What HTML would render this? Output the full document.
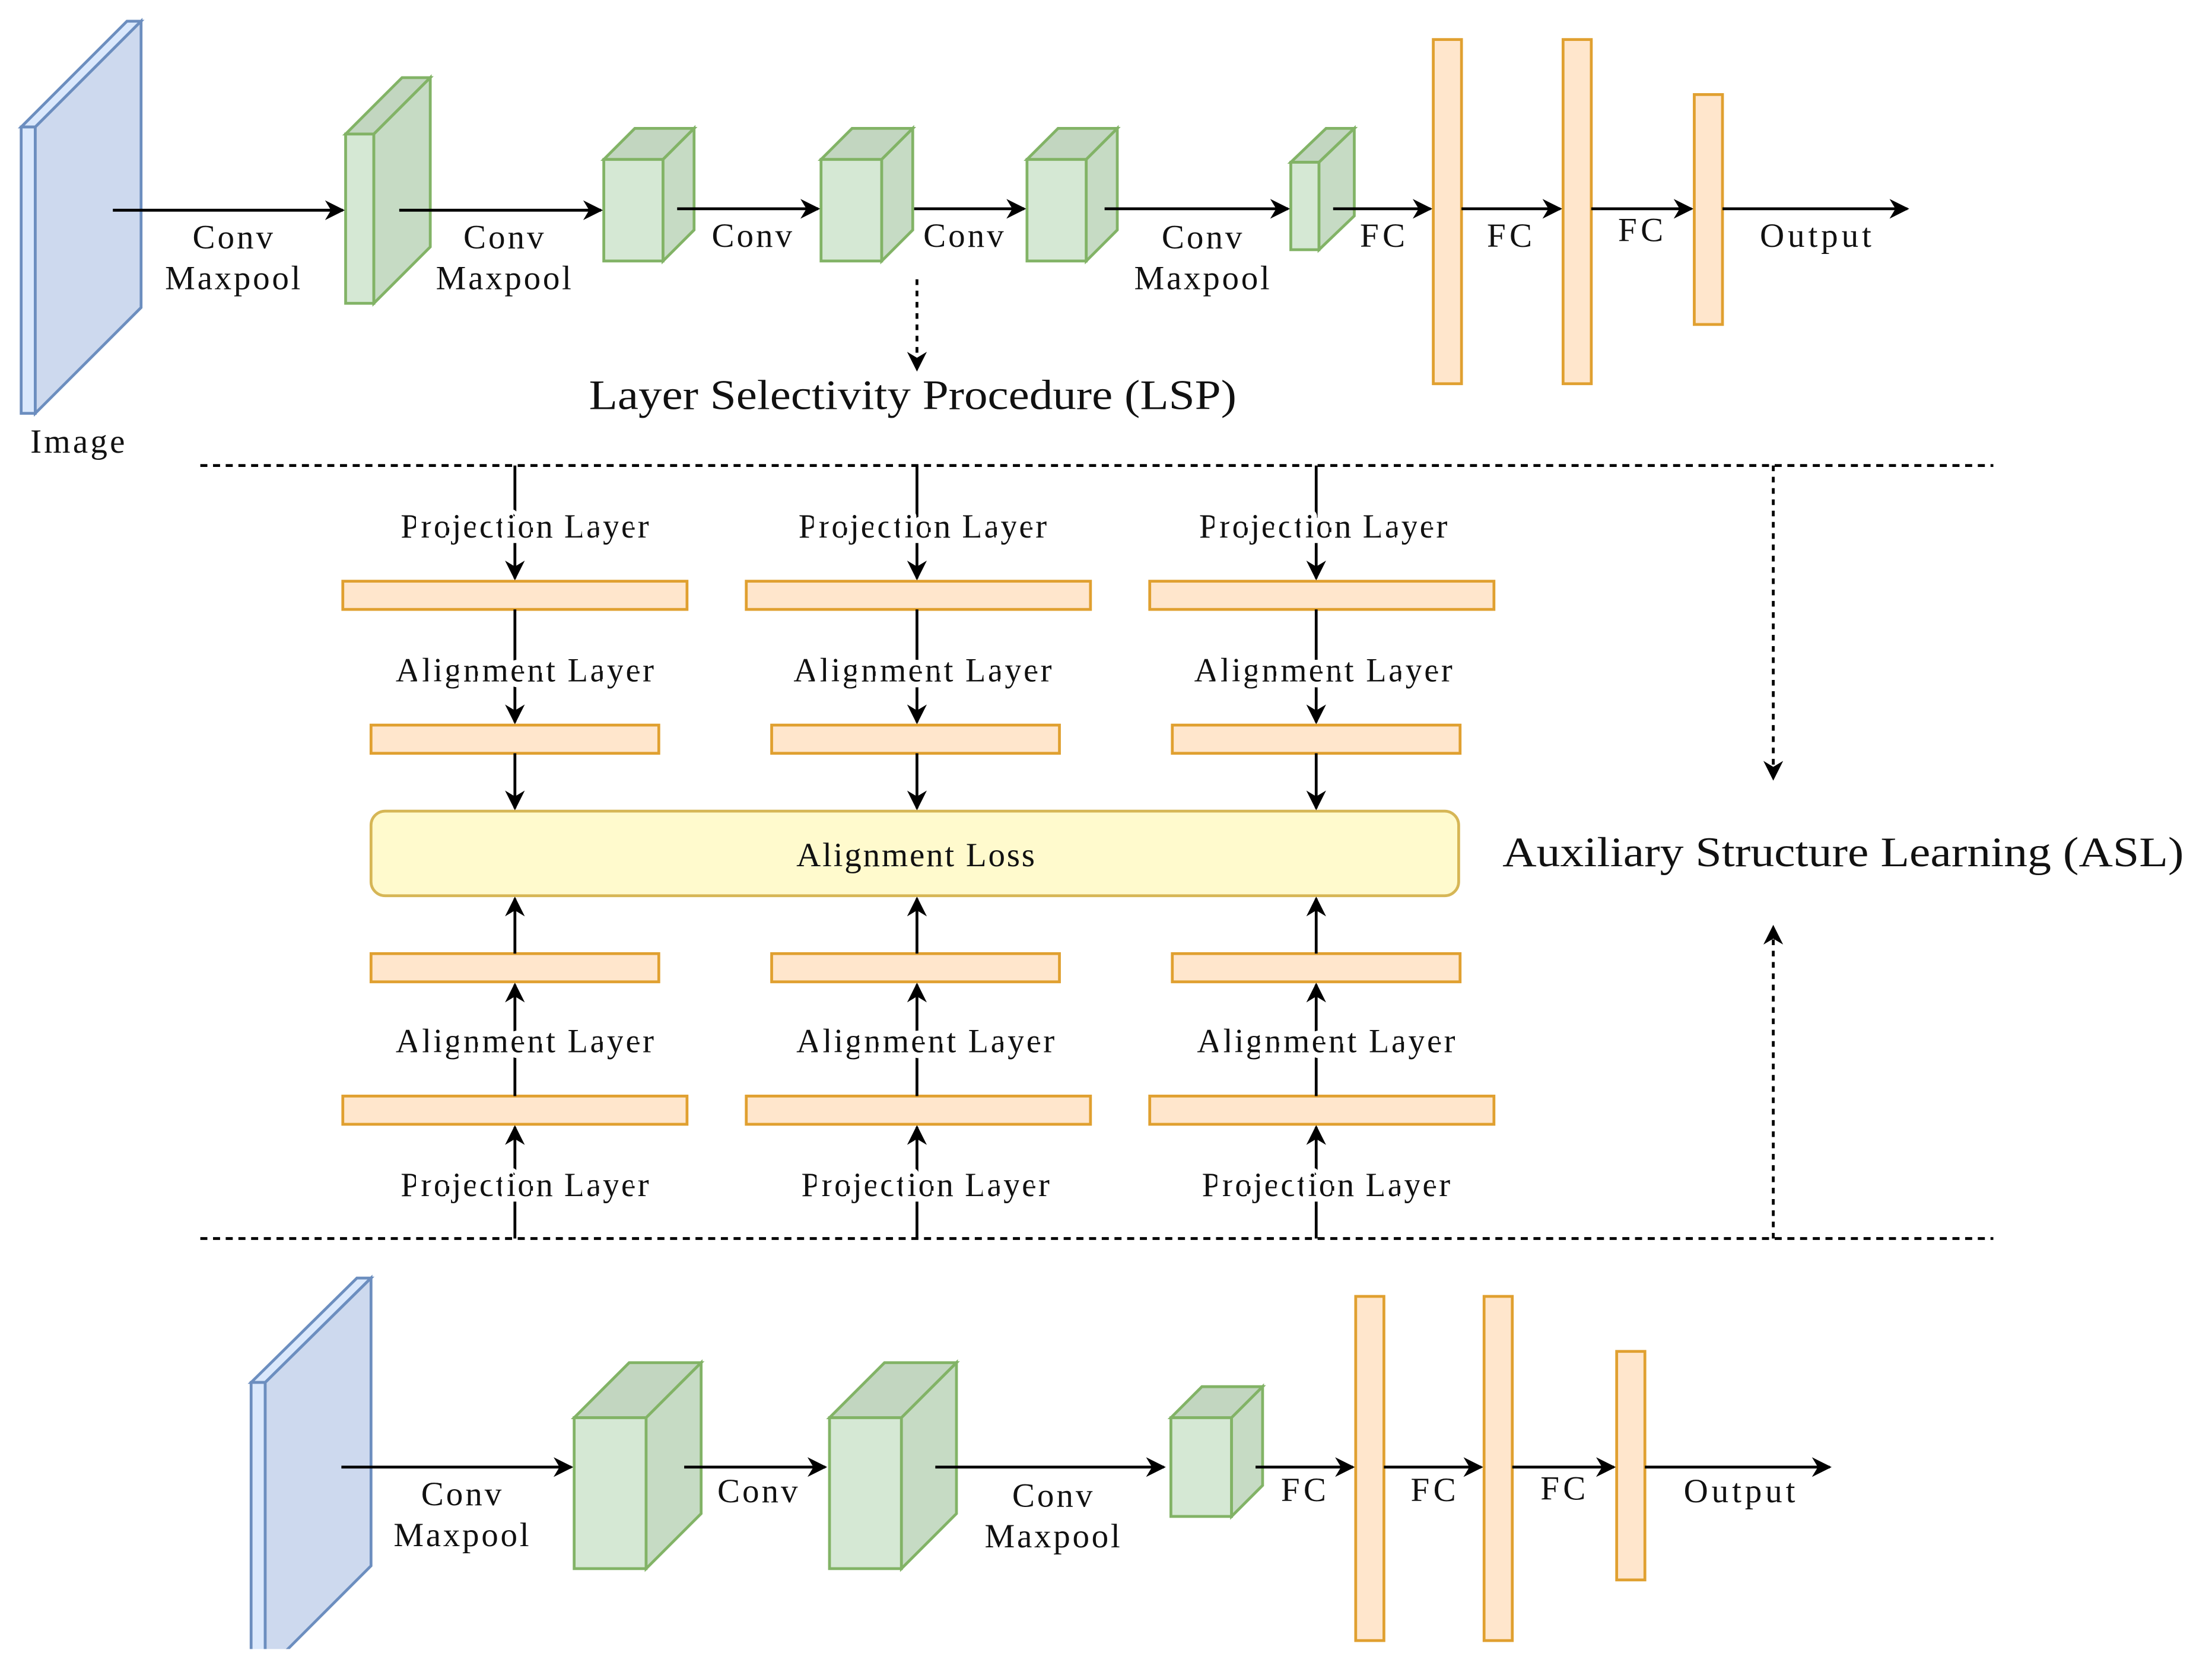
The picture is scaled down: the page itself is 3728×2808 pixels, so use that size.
<!DOCTYPE html>
<html><head><meta charset="utf-8"><style>
html,body{margin:0;padding:0;background:#fff}
svg{display:block}
text{font-family:"Liberation Serif",serif;fill:#111}
</style></head><body>
<svg width="3728" height="2808" viewBox="0 0 1568 1181" xmlns="http://www.w3.org/2000/svg">
<defs>
<marker id="a" viewBox="0 0 10 10" refX="9" refY="5" markerWidth="7" markerHeight="7" orient="auto"><path d="M0,0 L10,5 L0,10 L3,5 z" fill="#000"/></marker>
</defs>
<rect width="1568" height="1181" fill="#fff"/>
<g stroke="#6c8ebf" stroke-width="2" fill="#dae8fc">
<polygon points="15,90 90,15 100,15 25,90"/>
<rect x="15" y="90" width="10" height="203"/>
<polygon points="25,90 100,15 100,218 25,293" fill="#cdd9ee"/>
<polygon points="178,980 253,906 263,906 188,980"/>
<rect x="178" y="980" width="10" height="210"/>
<polygon points="188,980 263,906 263,1110 188,1185" fill="#cdd9ee"/>
</g>
<rect x="160" y="1169" width="120" height="20" fill="#fff"/>
<g stroke="#82b366" stroke-width="2">
<polygon points="245,95 285,55 305,55 265,95" fill="#c2d6c0"/><rect x="245" y="95" width="20" height="120" fill="#d5e8d4"/><polygon points="265,95 305,55 305,175 265,215" fill="#c6dbc4"/>
<polygon points="428,113 450,91 492,91 470,113" fill="#c2d6c0"/><rect x="428" y="113" width="42" height="72" fill="#d5e8d4"/><polygon points="470,113 492,91 492,163 470,185" fill="#c6dbc4"/>
<polygon points="582,113 604,91 647,91 625,113" fill="#c2d6c0"/><rect x="582" y="113" width="43" height="72" fill="#d5e8d4"/><polygon points="625,113 647,91 647,163 625,185" fill="#c6dbc4"/>
<polygon points="728,113 750,91 792,91 770,113" fill="#c2d6c0"/><rect x="728" y="113" width="42" height="72" fill="#d5e8d4"/><polygon points="770,113 792,91 792,163 770,185" fill="#c6dbc4"/>
<polygon points="915,115 940,91 960,91 935,115" fill="#c2d6c0"/><rect x="915" y="115" width="20" height="62" fill="#d5e8d4"/><polygon points="935,115 960,91 960,153 935,177" fill="#c6dbc4"/>
<polygon points="407,1005 446,966 497,966 458,1005" fill="#c2d6c0"/><rect x="407" y="1005" width="51" height="107" fill="#d5e8d4"/><polygon points="458,1005 497,966 497,1073 458,1112" fill="#c6dbc4"/>
<polygon points="588,1005 627,966 678,966 639,1005" fill="#c2d6c0"/><rect x="588" y="1005" width="51" height="107" fill="#d5e8d4"/><polygon points="639,1005 678,966 678,1073 639,1112" fill="#c6dbc4"/>
<polygon points="830,1005 852,983 895,983 873,1005" fill="#c2d6c0"/><rect x="830" y="1005" width="43" height="70" fill="#d5e8d4"/><polygon points="873,1005 895,983 895,1053 873,1075" fill="#c6dbc4"/>
</g>
<g stroke="#e0a030" stroke-width="2" fill="#ffe6cc">
<rect x="1016" y="28" width="20" height="244"/><rect x="1108" y="28" width="20" height="244"/><rect x="1201" y="67" width="20" height="163"/>
<rect x="961" y="919" width="20" height="244"/><rect x="1052" y="919" width="20" height="244"/><rect x="1146" y="958" width="20" height="162"/>
<rect x="243" y="412" width="244" height="20"/><rect x="529" y="412" width="244" height="20"/><rect x="815" y="412" width="244" height="20"/>
<rect x="243" y="777" width="244" height="20"/><rect x="529" y="777" width="244" height="20"/><rect x="815" y="777" width="244" height="20"/>
<rect x="263" y="514" width="204" height="20"/><rect x="547" y="514" width="204" height="20"/><rect x="831" y="514" width="204" height="20"/>
<rect x="263" y="676" width="204" height="20"/><rect x="547" y="676" width="204" height="20"/><rect x="831" y="676" width="204" height="20"/>
</g>
<rect x="263" y="575" width="771" height="60" rx="10" fill="#fffacd" stroke="#d6b656" stroke-width="2"/>
<g stroke="#000" stroke-width="2" fill="none" marker-end="url(#a)">
<line x1="80" y1="149" x2="243" y2="149"/><line x1="283" y1="149" x2="426" y2="149"/><line x1="480" y1="148" x2="580" y2="148"/><line x1="648" y1="148" x2="726" y2="148"/><line x1="783" y1="148" x2="913" y2="148"/><line x1="945" y1="148" x2="1014" y2="148"/><line x1="1036" y1="148" x2="1106" y2="148"/><line x1="1128" y1="148" x2="1199" y2="148"/><line x1="1221" y1="148" x2="1352" y2="148"/>
<line x1="242" y1="1040" x2="405" y2="1040"/><line x1="485" y1="1040" x2="585" y2="1040"/><line x1="663" y1="1040" x2="825" y2="1040"/><line x1="890" y1="1040" x2="959" y2="1040"/><line x1="981" y1="1040" x2="1050" y2="1040"/><line x1="1072" y1="1040" x2="1144" y2="1040"/><line x1="1166" y1="1040" x2="1297" y2="1040"/>
<line x1="650" y1="198" x2="650" y2="262" stroke-dasharray="4,4"/>
<line x1="1257" y1="330" x2="1257" y2="552" stroke-dasharray="4,4"/>
<line x1="1257" y1="878" x2="1257" y2="657" stroke-dasharray="4,4"/>
<g id="col">
<line x1="365" y1="330" x2="365" y2="410"/><line x1="365" y1="432" x2="365" y2="512"/><line x1="365" y1="534" x2="365" y2="573"/>
<line x1="365" y1="676" x2="365" y2="637"/><line x1="365" y1="777" x2="365" y2="698"/><line x1="365" y1="878" x2="365" y2="799"/>
</g>
<use href="#col" x="285"/><use href="#col" x="568"/>
</g>
<g stroke="#000" stroke-width="2" stroke-dasharray="5,4"><line x1="142" y1="330" x2="1413" y2="330"/><line x1="142" y1="878" x2="1413" y2="878"/></g>
<g font-size="24" text-anchor="middle" lengthAdjust="spacingAndGlyphs">
<text x="165" y="176" textLength="57">Conv</text><text x="165" y="205" textLength="96">Maxpool</text>
<text x="357" y="176" textLength="57">Conv</text><text x="357" y="205" textLength="96">Maxpool</text>
<text x="533" y="175" textLength="57">Conv</text><text x="683" y="175" textLength="57">Conv</text>
<text x="852" y="176" textLength="57">Conv</text><text x="852" y="205" textLength="96">Maxpool</text>
<text x="980" y="175" textLength="32">FC</text><text x="1070" y="175" textLength="32">FC</text><text x="1163" y="171" textLength="32">FC</text><text x="1287" y="175" textLength="79">Output</text>
<text x="55" y="321" textLength="67">Image</text>
<text x="327" y="1067" textLength="57">Conv</text><text x="327" y="1096" textLength="96">Maxpool</text><text x="537" y="1065" textLength="57">Conv</text>
<text x="746" y="1068" textLength="57">Conv</text><text x="746" y="1097" textLength="96">Maxpool</text>
<text x="924" y="1064" textLength="32">FC</text><text x="1016" y="1064" textLength="32">FC</text><text x="1108" y="1063" textLength="32">FC</text><text x="1233" y="1065" textLength="79">Output</text>
<text x="649" y="614" textLength="169">Alignment Loss</text>
</g>
<g font-size="24" text-anchor="middle" stroke="#fff" stroke-width="8" paint-order="stroke" lengthAdjust="spacingAndGlyphs">
<text x="372" y="381" textLength="176">Projection Layer</text><text x="654" y="381" textLength="176">Projection Layer</text><text x="938" y="381" textLength="176">Projection Layer</text>
<text x="372" y="483" textLength="183">Alignment Layer</text><text x="654" y="483" textLength="183">Alignment Layer</text><text x="938" y="483" textLength="183">Alignment Layer</text>
<text x="372" y="746" textLength="183">Alignment Layer</text><text x="656" y="746" textLength="183">Alignment Layer</text><text x="940" y="746" textLength="183">Alignment Layer</text>
<text x="372" y="848" textLength="176">Projection Layer</text><text x="656" y="848" textLength="176">Projection Layer</text><text x="940" y="848" textLength="176">Projection Layer</text>
</g>
<text x="647" y="290" font-size="30" text-anchor="middle" textLength="459" lengthAdjust="spacingAndGlyphs">Layer Selectivity Procedure (LSP)</text>
<text x="1065" y="614" font-size="30" textLength="483" lengthAdjust="spacingAndGlyphs">Auxiliary Structure Learning (ASL)</text>
</svg>
</body></html>
